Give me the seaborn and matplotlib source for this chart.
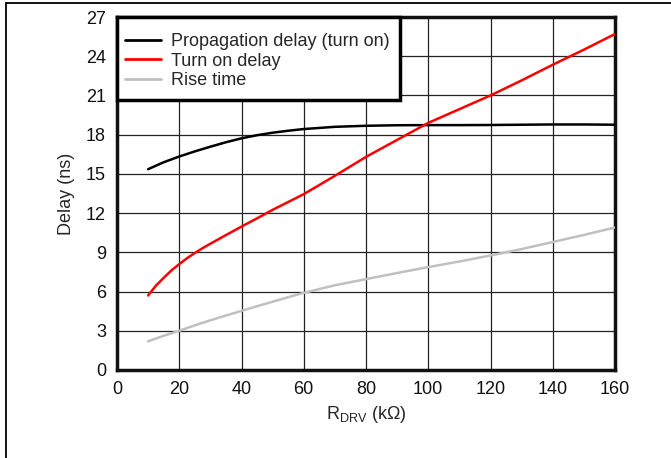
import pandas as pd
import matplotlib
matplotlib.use("Agg")
import matplotlib.pyplot as plt
import seaborn as sns
from matplotlib.lines import Line2D
from matplotlib.patches import Rectangle

# values
r_drv = [10, 15, 20, 25, 30, 35, 40, 45, 50, 55, 60, 70, 80, 90, 100, 110, 120, 130, 140, 150, 160]
prop_delay = [15.36, 15.89, 16.33, 16.72, 17.08, 17.42, 17.72, 17.96, 18.15, 18.3, 18.43, 18.6,
              18.68, 18.72, 18.73, 18.73, 18.74, 18.76, 18.78, 18.78, 18.76]
rise_time = [2.19, 2.62, 3.0, 3.42, 3.8, 4.17, 4.52, 4.88, 5.22, 5.57, 5.9, 6.48,
             6.95, 7.42, 7.87, 8.3, 8.76, 9.25, 9.79, 10.33, 10.9]

# turn on delay bends sharply at the start, so it is read more densely there
r_drv_ton = [10, 12.5, 15, 17.5, 20, 22.5, 25, 27.5, 30, 35, 40, 45, 50, 55, 60, 70, 80, 90,
             100, 110, 120, 130, 140, 150, 160]
turn_on_delay = [5.7, 6.45, 7.05, 7.62, 8.1, 8.55, 8.95, 9.32, 9.66, 10.32, 10.97, 11.6, 12.25,
                 12.85, 13.45, 14.85, 16.3, 17.6, 18.9, 19.95, 21.0, 22.15, 23.35, 24.5, 25.7]

series_names = ["Propagation delay (turn on)", "Turn on delay", "Rise time"]
series_colors = ["#000000", "#ff0000", "#c0c0c0"]

df = pd.concat([
    pd.DataFrame({"R": r_drv, "Delay": prop_delay, "series": series_names[0]}),
    pd.DataFrame({"R": r_drv_ton, "Delay": turn_on_delay, "series": series_names[1]}),
    pd.DataFrame({"R": r_drv, "Delay": rise_time, "series": series_names[2]}),
], ignore_index=True)

sns.set_style("white")
plt.rcParams['font.family'] = ['Liberation Sans', 'DejaVu Sans']
plt.rcParams['mathtext.fontset'] = 'custom'
plt.rcParams['mathtext.rm'] = 'Liberation Sans'

fig = plt.figure(figsize=(6.71, 4.58), dpi=100)
ax = fig.add_axes([117 / 671, 1 - 370 / 458, (615 - 117) / 671, (370 - 17) / 458])

sns.lineplot(data=df, x="R", y="Delay", hue="series", palette=series_colors,
             hue_order=series_names, linewidth=1.8, ax=ax, zorder=3)

ax.set_xlim(0, 160)
ax.set_ylim(0, 27)
ax.set_xticks(range(0, 161, 20))
ax.set_yticks(range(0, 28, 3))
ax.tick_params(length=0, labelsize=13, pad=8, colors="#111111")
ax.grid(True, color="#222222", linewidth=0.9)
ax.set_axisbelow(True)
for s in ax.spines.values():
    s.set_linewidth(2.5)
    s.set_color("#111111")

ax.set_xlabel(r"R$_{\mathrm{DRV}}$ (k$\Omega$)", fontsize=13, labelpad=4)
ax.set_ylabel("Delay (ns)", fontsize=13, labelpad=8)

# legend box drawn separately so the padding can match the original
box = Rectangle((0, 1 - 83 / 353), 283 / 498, 83 / 353, transform=ax.transAxes,
                facecolor="white", edgecolor="black", linewidth=2.5, zorder=4.5,
                clip_on=False)
ax.add_patch(box)
leg = ax.legend(loc="upper left", bbox_to_anchor=(8 / 498, 1 - 16 / 353), fontsize=13,
                frameon=False, borderaxespad=0, borderpad=0, handlelength=2.0,
                handletextpad=0.55, labelspacing=0.15)
leg.set_zorder(5)
for h in leg.get_lines():
    h.set_linewidth(2)

# page frame lines (top and left)
fig.add_artist(Line2D([6 / 671, 1], [1 - 3 / 458, 1 - 3 / 458], color="black", lw=1.3,
                      transform=fig.transFigure))
fig.add_artist(Line2D([6 / 671, 6 / 671], [0, 1 - 3 / 458], color="black", lw=1.3,
                      transform=fig.transFigure))

fig.savefig("out.png", dpi=100)
